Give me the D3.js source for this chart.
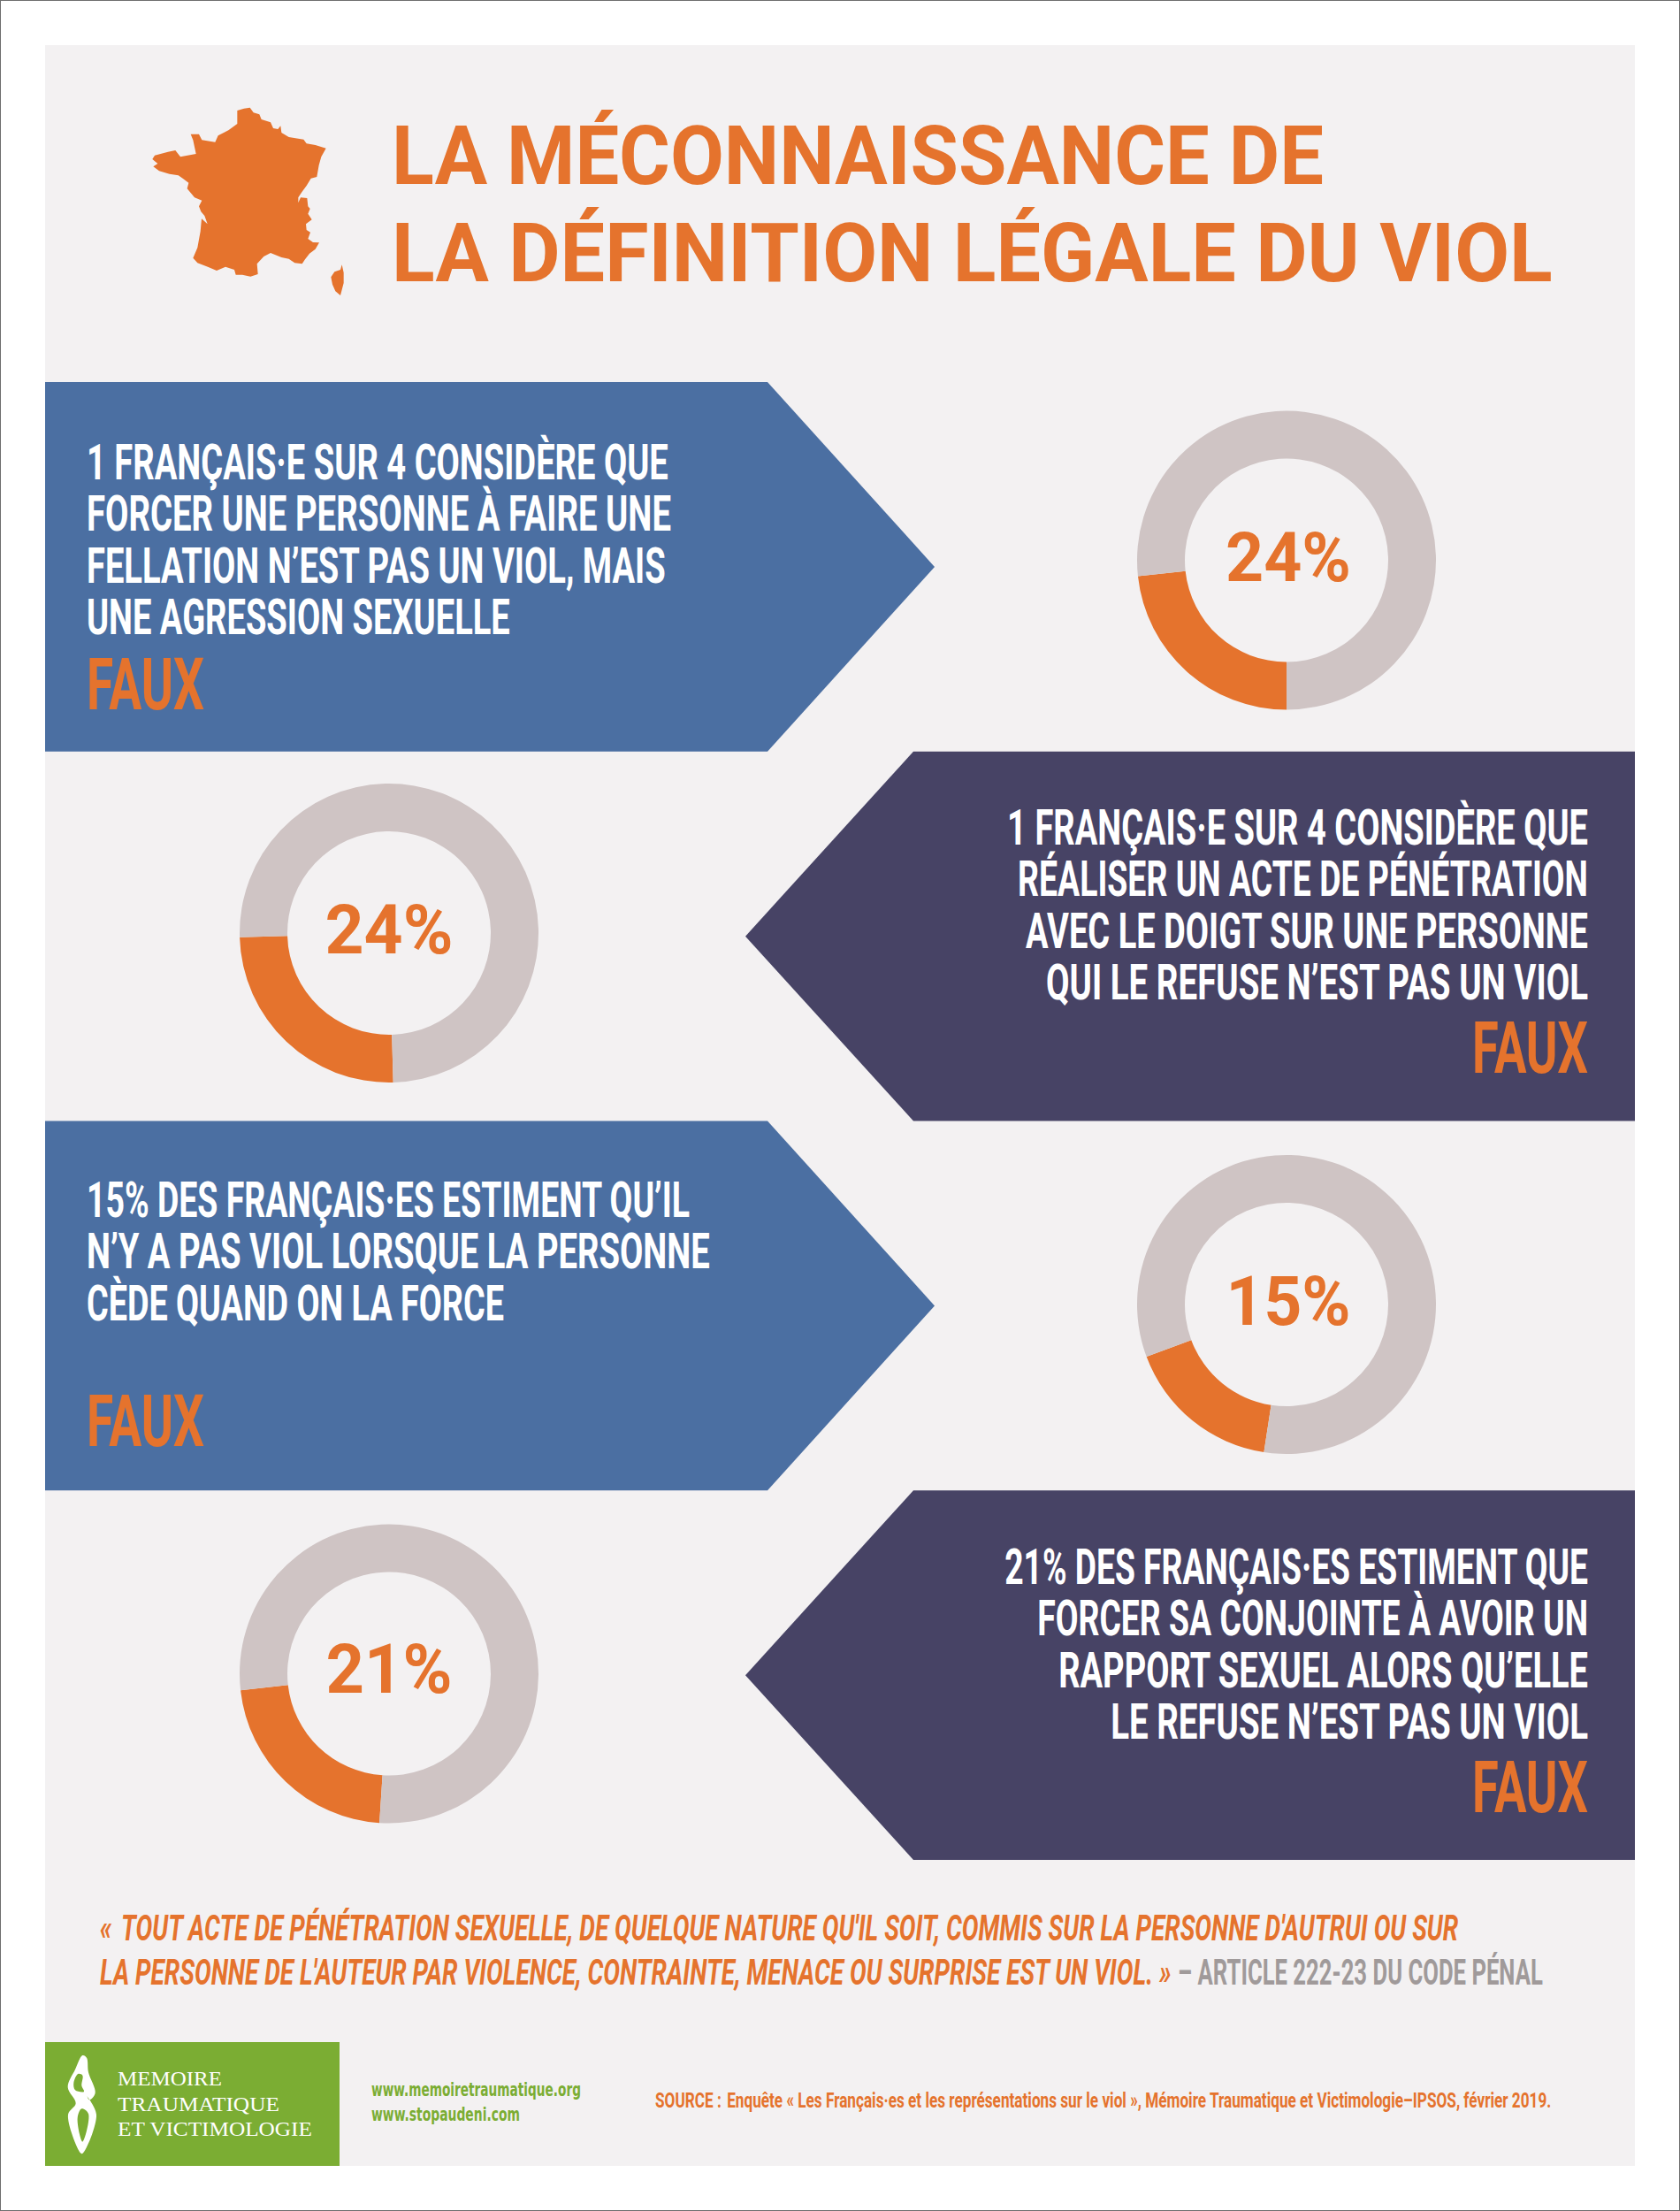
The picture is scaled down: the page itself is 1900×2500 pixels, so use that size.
<!DOCTYPE html>
<html lang="fr">
<head>
<meta charset="utf-8">
<title>La méconnaissance de la définition légale du viol</title>
<script src="https://cdn.jsdelivr.net/npm/d3@7"></script>
<style>
    body { margin: 0; background: #fff; }
    svg { display: block; }
    text { font-family: Roboto, "Liberation Sans", sans-serif; font-weight: 700; }
</style>
</head>
<body>
<svg class="poster" width="1900" height="2500"></svg>
<script>
// DATA //
const statements = [
    ['1 FRANÇAIS·E SUR 4 CONSIDÈRE QUE', 'FORCER UNE PERSONNE À FAIRE UNE', 'FELLATION N’EST PAS UN VIOL, MAIS', 'UNE AGRESSION SEXUELLE'],
    ['1 FRANÇAIS·E SUR 4 CONSIDÈRE QUE', 'RÉALISER UN ACTE DE PÉNÉTRATION', 'AVEC LE DOIGT SUR UNE PERSONNE', 'QUI LE REFUSE N’EST PAS UN VIOL'],
    ['15% DES FRANÇAIS·ES ESTIMENT QU’IL', 'N’Y A PAS VIOL LORSQUE LA PERSONNE', 'CÈDE QUAND ON LA FORCE'],
    ['21% DES FRANÇAIS·ES ESTIMENT QUE', 'FORCER SA CONJOINTE À AVOIR UN', 'RAPPORT SEXUEL ALORS QU’ELLE', 'LE REFUSE N’EST PAS UN VIOL']
];
const verdict = 'FAUX';
const donutLabels = ['24%', '24%', '15%', '21%'];
// the orange arcs as they are drawn, which is not always what the label says
const arcShares = [23.3, 25, 16.9, 22.2];
const arcStarts = [180, 178.4, 188.7, 183.7]; // degrees clockwise from 12 o'clock

const titleLines = ['LA MÉCONNAISSANCE DE', 'LA DÉFINITION LÉGALE DU VIOL'];
const quoteLines = ['«\u00a0\u2009TOUT ACTE DE PÉNÉTRATION SEXUELLE, DE QUELQUE NATURE QU\'IL SOIT, COMMIS SUR LA PERSONNE D\'AUTRUI OU SUR',
    'LA PERSONNE DE L\'AUTEUR PAR VIOLENCE, CONTRAINTE, MENACE OU SURPRISE EST UN VIOL. »'];
const quoteSource = '– ARTICLE 222-23 DU CODE PÉNAL';
const logoLines = ['MEMOIRE', 'TRAUMATIQUE', 'ET VICTIMOLOGIE'];
const urls = ['www.memoiretraumatique.org', 'www.stopaudeni.com'];
const sourceLine = 'SOURCE :\u00a0\u2009Enquête « Les Français·es et les représentations sur le viol », Mémoire Traumatique et Victimologie–IPSOS, février 2019.';

// outlines
const franceOutline = [[415,105],[438,98],[458,95],[470,112],[490,118],[497,135],[528,145],[537,165],[553,168],[562,157],[565,180],[590,195],[640,203],[650,217],[680,222],[716,233],[700,262],[692,290],[685,330],[665,335],[650,360],[635,380],[622,400],[622,418],[630,400],[652,402],[655,430],[662,438],[655,455],[668,475],[648,490],[650,510],[663,518],[655,540],[672,552],[693,553],[680,575],[660,590],[645,610],[635,625],[610,622],[590,608],[565,603],[528,588],[505,600],[482,625],[485,660],[460,668],[432,662],[410,662],[405,645],[375,635],[345,648],[315,635],[280,622],[265,605],[280,570],[290,515],[294,472],[314,490],[304,462],[292,448],[285,430],[295,410],[270,400],[245,370],[250,350],[230,335],[215,325],[185,320],[150,310],[130,295],[145,285],[127,270],[135,257],[180,245],[205,240],[222,262],[275,252],[265,205],[257,185],[285,185],[295,205],[340,212],[350,190],[385,172],[415,150]];
const corsicaOutline = [[770,628],[776,655],[776,690],[765,732],[748,718],[738,695],[733,670],[745,652],[765,645]];
const logoOutline = [[85,27],[99,35],[105,85],[128,155],[108,178],[100,165],[132,228],[85,360],[78,358],[36,228],[62,190],[35,135],[60,75]];
const logoHoles = [
    [[70,90],[85,95],[82,130],[90,150],[60,145],[55,120]],
    [[82,208],[105,225],[85,320],[68,240]]
];

// LAYOUT //
const orange = '#e5732d';
const bandColors = ['#4b6fa2', '#474365'];
const ringColor = '#cfc4c4';
const panelColor = '#f3f1f2';
const green = '#7bad33';

const bands = d3.scaleBand().domain(d3.range(4)).range([432, 2103]);
const isLeft = i => i % 2 === 0; // blue bands start on the left edge

const panelLeft = 51, panelRight = 1849;
const textLeft = 98, textRight = 1796;
const firstBaseline = [542, 955, 1376, 1791];
const fauxBaseline = [802, 1213, 1635, 2049];
const linePitch = 58.3;
// measured line widths, the poster's DIN is narrower than anything installed
const lineWidths = [[658, 661, 655, 479], [657, 645, 636, 613], [682, 705, 472], [660, 623, 599, 540]];
const fauxWidths = [133, 131, 133, 131];

const donutCx = [1455, 440, 1455, 440];
const donutCy = [633.5, 1055, 1475, 1892.5];
const donutBaseline = [657, 1078, 1498, 1914];
const donutTextCx = [1457, 440, 1457, 440];
const donutTextWidth = [142, 145, 141, 143];
const outerRadius = 169, innerRadius = 115;

const svg = d3.select('.poster');

// squeeze a text sideways to its measured width
const addText = (parent, str, x, y, opts) => {
    const t = parent.append('text')
        .attr('font-size', opts.size)
        .attr('fill', opts.fill)
        .attr('text-anchor', opts.anchor || 'start')
        .text(str);
    if (opts.family) t.style('font-family', opts.family);
    if (opts.weight) t.style('font-weight', opts.weight);
    if (opts.italic) t.style('font-style', 'italic');
    const squeeze = opts.width / t.node().getComputedTextLength();
    t.attr('transform', `translate(${x}, ${y}) scale(${squeeze}, 1)`);
    return t;
};

// BACKGROUND //
svg.append('rect')
    .attr('x', 0.5).attr('y', 0.5)
    .attr('width', 1899).attr('height', 2499)
    .attr('fill', '#fff')
    .attr('stroke', '#6f6f6f');

svg.append('rect')
    .attr('x', panelLeft).attr('y', 51)
    .attr('width', panelRight - panelLeft).attr('height', 2398)
    .attr('fill', panelColor);

// MAP AND TITLE //
const mapX = d3.scaleLinear().domain([0, 900]).range([130, 430]);
const mapY = d3.scaleLinear().domain([0, 810]).range([90, 360]);
const mapLine = d3.line().x(d => mapX(d[0])).y(d => mapY(d[1])).curve(d3.curveLinearClosed);

svg.selectAll('.map')
    .data([franceOutline, corsicaOutline])
    .enter().append('path')
    .classed('map', true)
    .attr('d', mapLine)
    .attr('fill', orange);

const titleBaselines = [208, 318];
const titleWidths = [1054, 1313];
titleLines.forEach((line, i) => {
    addText(svg, line, 443, titleBaselines[i], {size: 93, fill: orange, width: titleWidths[i]});
});

// BANDS //
const bandPath = i => {
    const top = bands(i), bottom = top + bands.bandwidth(), mid = top + bands.bandwidth() / 2;
    const pts = isLeft(i)
        ? [[panelLeft, top], [868, top], [1057, mid], [868, bottom], [panelLeft, bottom]]
        : [[panelRight, top], [1033, top], [843, mid], [1033, bottom], [panelRight, bottom]];
    return d3.line()(pts) + 'Z';
};

svg.selectAll('.band')
    .data(statements)
    .enter().append('path')
    .classed('band', true)
    .attr('d', (d, i) => bandPath(i))
    .attr('fill', (d, i) => bandColors[i % 2]);

statements.forEach((lines, i) => {
    const anchor = isLeft(i) ? 'start' : 'end';
    const x = isLeft(i) ? textLeft : textRight;
    lines.forEach((line, j) => {
        addText(svg, line, x, firstBaseline[i] + j * linePitch, {size: 56, fill: '#fff', anchor: anchor, width: lineWidths[i][j]});
    });
    addText(svg, verdict, x, fauxBaseline[i], {size: 81, fill: orange, anchor: anchor, width: fauxWidths[i]});
});

// DONUTS //
const arc = d3.arc().innerRadius(innerRadius).outerRadius(outerRadius);

arcShares.forEach((share, i) => {
    const start = arcStarts[i] * Math.PI / 180;
    const pie = d3.pie().sort(null).startAngle(start).endAngle(start + 2 * Math.PI);
    const donut = svg.append('g')
        .classed('donut', true)
        .attr('transform', `translate(${donutCx[i]}, ${donutCy[i]})`);

    donut.selectAll('path')
        .data(pie([share, 100 - share]))
        .enter().append('path')
        .attr('d', arc)
        .attr('fill', (d, k) => k === 0 ? orange : ringColor);

    addText(svg, donutLabels[i], donutTextCx[i], donutBaseline[i], {size: 77, fill: orange, anchor: 'middle', width: donutTextWidth[i]});
});

// QUOTE //
addText(svg, quoteLines[0], 113, 2194, {size: 40, fill: orange, width: 1537, italic: true});
addText(svg, quoteLines[1], 113, 2244, {size: 40, fill: orange, width: 1212, italic: true});
addText(svg, quoteSource, 1332, 2244, {size: 40, fill: '#a09a9a', width: 413});

// FOOTER //
svg.append('rect')
    .attr('x', panelLeft).attr('y', 2309)
    .attr('width', 333).attr('height', 140)
    .attr('fill', green);

const logoX = d3.scaleLinear().domain([0, 180]).range([65, 125]);
const logoY = d3.scaleLinear().domain([0, 390]).range([2315, 2445]);
const logoLine = d3.line().x(d => logoX(d[0])).y(d => logoY(d[1])).curve(d3.curveCatmullRomClosed);

svg.append('path')
    .attr('d', [logoOutline].concat(logoHoles).map(logoLine).join(' '))
    .attr('fill', '#fff')
    .attr('fill-rule', 'evenodd');

const logoBaselines = [2358, 2387, 2415];
const logoWidths = [118, 183, 220];
logoLines.forEach((line, i) => {
    addText(svg, line, 133, logoBaselines[i], {size: 23, fill: '#fff', width: logoWidths[i], family: '"Liberation Serif", serif', weight: 400});
});

const urlBaselines = [2370, 2398];
const urlWidths = [237, 168];
urls.forEach((url, i) => {
    addText(svg, url, 420, urlBaselines[i], {size: 21, fill: green, width: urlWidths[i], family: '"DejaVu Sans Condensed", "DejaVu Sans", sans-serif'});
});

addText(svg, sourceLine, 741, 2383, {size: 24, fill: orange, width: 1014});
</script>
</body>
</html>
